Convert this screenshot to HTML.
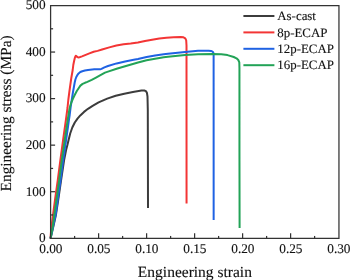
<!DOCTYPE html>
<html><head><meta charset="utf-8"><style>
html,body{margin:0;padding:0;background:#fff;}
body{width:350px;height:280px;overflow:hidden;}
svg{display:block;font-family:"Liberation Serif",serif;text-rendering:geometricPrecision;will-change:transform;}
text{fill:#111;stroke:#111;stroke-width:0.12px;}
</style></head><body>
<svg width="350" height="280" viewBox="0 0 350 280">
<rect width="350" height="280" fill="#fff"/>
<g fill="none" stroke-width="2.0" stroke-linejoin="round" stroke-linecap="butt">
<path d="M50.50,238.50 L53.00,228.00 L55.90,215.00 L58.20,200.00 L61.10,180.00 L64.10,160.00 L66.10,150.00 L67.40,145.00 L68.70,139.50 L70.20,133.50 L72.30,127.50 L74.80,122.50 L77.50,118.60 L80.30,115.40 L84.00,111.90 L88.00,108.80 L92.60,105.90 L98.60,102.40 L107.20,98.60 L115.70,95.80 L124.30,93.70 L132.90,92.00 L141.50,90.60 L144.30,90.50 L145.90,91.10 L146.90,92.70 L147.50,96.50 L147.80,110.00 L148.00,208.00" stroke="#3c3c3c"/>
<path d="M50.50,238.50 L51.30,228.00 L53.00,215.00 L55.00,200.00 L57.80,180.00 L60.40,160.00 L63.10,140.00 L65.90,120.00 L67.50,108.00 L68.30,100.00 L69.20,93.00 L70.30,85.00 L71.30,78.00 L72.00,74.00 L72.70,70.00 L73.30,65.00 L74.10,61.00 L74.80,58.00 L75.40,56.30 L75.90,55.70 L76.50,56.20 L77.30,57.00 L78.20,57.40 L79.50,57.20 L82.00,56.40 L85.10,55.10 L89.40,53.40 L93.70,51.80 L97.60,50.90 L102.10,49.50 L109.30,47.40 L116.40,45.50 L123.60,44.20 L130.70,43.60 L137.90,42.60 L145.00,41.10 L152.10,39.80 L159.30,38.60 L166.40,37.80 L173.60,37.20 L180.70,36.90 L183.50,37.30 L185.30,38.30 L186.20,40.30 L186.50,45.50 L186.55,203.50" stroke="#f33535"/>
<path d="M50.50,238.50 L52.80,228.00 L55.60,215.00 L57.70,200.00 L60.60,180.00 L63.20,160.00 L66.10,140.00 L68.10,126.00 L68.90,120.00 L69.70,115.00 L70.30,110.00 L70.80,106.00 L71.60,101.00 L72.20,97.00 L73.00,92.00 L73.90,87.00 L74.70,82.50 L75.40,79.50 L76.30,77.00 L77.30,75.20 L78.60,73.40 L80.30,72.00 L82.30,71.20 L84.90,70.50 L88.00,69.90 L94.30,69.20 L100.30,69.20 L101.50,68.90 L104.40,67.40 L108.00,66.00 L116.60,63.40 L125.10,61.50 L133.70,59.80 L138.00,59.00 L146.60,57.00 L155.10,55.50 L163.70,54.30 L168.00,53.80 L185.10,51.90 L198.00,50.80 L208.60,50.70 L211.00,50.90 L212.60,51.60 L213.40,52.80 L213.62,54.80 L213.66,220.00" stroke="#1f62e3"/>
<path d="M50.50,238.50 L52.50,228.00 L54.30,215.00 L56.40,200.00 L59.20,180.00 L61.80,160.00 L64.70,140.00 L66.75,126.00 L67.70,120.00 L68.50,115.00 L69.30,110.00 L70.20,106.00 L71.50,102.00 L73.00,98.50 L74.70,95.00 L76.80,91.00 L78.80,88.00 L80.40,85.60 L82.60,83.90 L85.00,82.80 L87.40,81.90 L91.70,79.90 L96.00,77.60 L100.00,75.40 L105.00,72.60 L108.00,71.60 L116.60,68.80 L125.10,66.30 L133.70,63.70 L138.00,62.50 L146.60,60.30 L155.10,58.80 L163.70,57.30 L168.00,56.70 L185.10,54.90 L198.00,54.30 L212.90,54.10 L221.25,54.25 L227.50,55.10 L233.75,57.00 L236.50,58.30 L238.30,60.00 L239.30,62.30 L239.45,68.00 L239.45,150.00 L239.60,228.00" stroke="#22a357"/>
</g>
<path d="M50.6,238.25 V5.5 H338.95 V238.25 Z" fill="none" stroke="#333" stroke-width="1.25" stroke-linejoin="miter"/>
<g stroke="#333" stroke-width="1.25">
<line x1="50.6" y1="214.97" x2="53.1" y2="214.97"/><line x1="50.6" y1="191.70" x2="55.1" y2="191.70"/><line x1="50.6" y1="168.43" x2="53.1" y2="168.43"/><line x1="50.6" y1="145.15" x2="55.1" y2="145.15"/><line x1="50.6" y1="121.88" x2="53.1" y2="121.88"/><line x1="50.6" y1="98.60" x2="55.1" y2="98.60"/><line x1="50.6" y1="75.33" x2="53.1" y2="75.33"/><line x1="50.6" y1="52.05" x2="55.1" y2="52.05"/><line x1="50.6" y1="28.78" x2="53.1" y2="28.78"/><line x1="74.60" y1="238.25" x2="74.60" y2="235.95"/><line x1="98.60" y1="238.25" x2="98.60" y2="233.25"/><line x1="122.60" y1="238.25" x2="122.60" y2="235.95"/><line x1="146.60" y1="238.25" x2="146.60" y2="233.25"/><line x1="170.60" y1="238.25" x2="170.60" y2="235.95"/><line x1="194.60" y1="238.25" x2="194.60" y2="233.25"/><line x1="218.60" y1="238.25" x2="218.60" y2="235.95"/><line x1="242.60" y1="238.25" x2="242.60" y2="233.25"/><line x1="266.60" y1="238.25" x2="266.60" y2="235.95"/><line x1="290.60" y1="238.25" x2="290.60" y2="233.25"/><line x1="314.60" y1="238.25" x2="314.60" y2="235.95"/>
</g>
<g font-size="13.3">
<text x="45.6" y="242.05" text-anchor="end">0</text><text x="45.6" y="195.50" text-anchor="end">100</text><text x="45.6" y="148.95" text-anchor="end">200</text><text x="45.6" y="102.40" text-anchor="end">300</text><text x="45.6" y="55.85" text-anchor="end">400</text><text x="45.6" y="9.30" text-anchor="end">500</text>
<text x="50.90" y="253.3" text-anchor="middle">0.00</text><text x="98.90" y="253.3" text-anchor="middle">0.05</text><text x="146.90" y="253.3" text-anchor="middle">0.10</text><text x="194.90" y="253.3" text-anchor="middle">0.15</text><text x="242.90" y="253.3" text-anchor="middle">0.20</text><text x="290.90" y="253.3" text-anchor="middle">0.25</text><text x="338.90" y="253.3" text-anchor="middle">0.30</text>
</g>
<g font-size="12.9">
<line x1="243.4" y1="16.00" x2="274.4" y2="16.00" stroke="#3c3c3c" stroke-width="2"/><text x="277.3" y="20.10">As-cast</text><line x1="243.4" y1="32.40" x2="274.4" y2="32.40" stroke="#f33535" stroke-width="2"/><text x="277.3" y="36.50">8p-ECAP</text><line x1="243.4" y1="48.80" x2="274.4" y2="48.80" stroke="#1f62e3" stroke-width="2"/><text x="277.3" y="52.90">12p-ECAP</text><line x1="243.4" y1="65.20" x2="274.4" y2="65.20" stroke="#22a357" stroke-width="2"/><text x="277.3" y="69.30">16p-ECAP</text>
</g>
<text x="194.9" y="277.2" font-size="15.5" text-anchor="middle">Engineering strain</text>
<text transform="translate(11.1,113.4) rotate(-90)" font-size="15.35" text-anchor="middle">Engineering stress (MPa)</text>
</svg>
</body></html>
